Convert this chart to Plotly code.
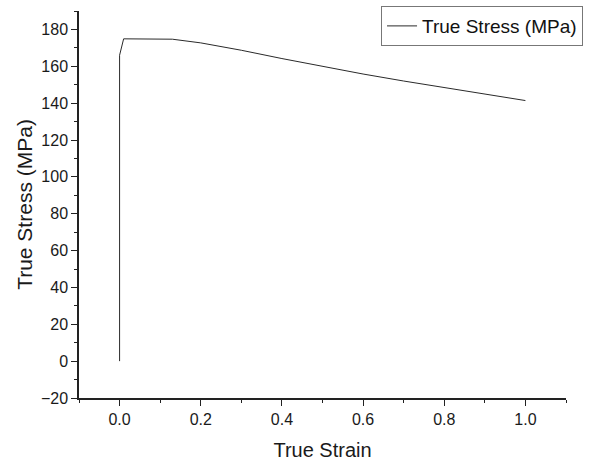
import plotly.graph_objects as go

strain = [0.0, 0.0, 0.01, 0.05, 0.13, 0.2, 0.272, 0.3, 0.4, 0.5, 0.6, 0.7, 0.8, 0.9, 1.0]
stress = [0.0, 166.0, 174.9, 174.9, 174.7, 172.7, 170.0, 168.7, 164.2, 159.8, 155.8, 152.0, 148.4, 144.8, 141.4]

series_name = "True Stress (MPa)"
x_title = "True Strain"
y_title = "True Stress (MPa)"

fig = go.Figure()
fig.add_trace(go.Scatter(x=strain, y=stress, mode="lines", name=series_name,
                         line=dict(color="#2a2a2a", width=1), showlegend=True))

font_family = "Liberation Sans, Arial, sans-serif"
fig.update_layout(
    width=590, height=464,
    margin=dict(l=79, r=24, t=6, b=66),
    plot_bgcolor="white", paper_bgcolor="white",
    font=dict(family=font_family, color="#1a1a1a", size=16),
    showlegend=True,
    legend=dict(x=1.035, y=1.0128, xanchor="right", yanchor="top",
                bgcolor="white", bordercolor="#777", borderwidth=1,
                font=dict(size=19, family=font_family, color="#111"),
                itemwidth=30, tracegroupgap=0),
    xaxis=dict(range=[-0.1, 1.1], tickvals=[0, 0.2, 0.4, 0.6, 0.8, 1.0],
               ticktext=["0.0", "0.2", "0.4", "0.6", "0.8", "1.0"],
               ticks="outside", ticklen=6, tickwidth=1, tickcolor="#222",
               minor=dict(tickvals=[-0.1, 0.1, 0.3, 0.5, 0.7, 0.9, 1.1], ticks="outside", ticklen=3, tickcolor="#222"),
               showline=True, linecolor="#222", linewidth=1.5, showgrid=False, zeroline=False,
               tickfont=dict(size=16),
               title=dict(text=x_title, font=dict(size=20), standoff=16)),
    yaxis=dict(range=[-20, 190], tickvals=list(range(-20, 181, 20)),
               ticktext=["\u221220"] + [str(v) for v in range(0, 181, 20)],
               ticks="outside", ticklen=6, tickwidth=1, tickcolor="#222",
               minor=dict(tickvals=list(range(-10, 191, 20)), ticks="outside", ticklen=3, tickcolor="#222"),
               showline=True, linecolor="#222", linewidth=1.5, showgrid=False, zeroline=False,
               tickfont=dict(size=16),
               title=dict(text=y_title, font=dict(size=21), standoff=3)),
)

fig.write_html("out.html")
